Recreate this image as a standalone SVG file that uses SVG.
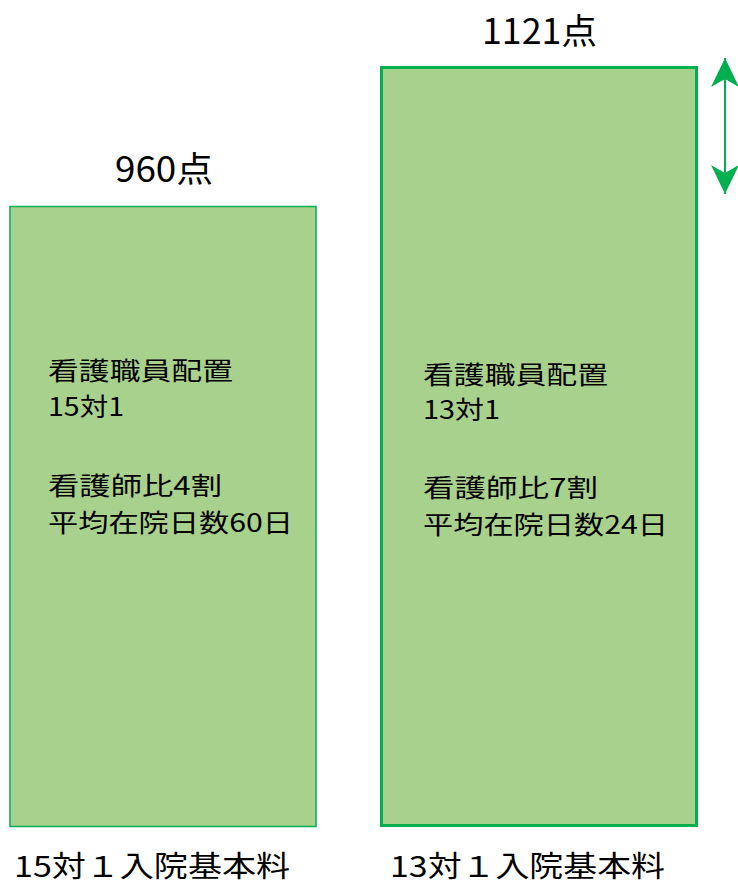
<svg xmlns="http://www.w3.org/2000/svg" width="738" height="886" viewBox="0 0 738 886">
<style>
.bar{fill:#A9D18E;stroke:#00B050}
.t{font-family:"Noto Sans CJK JP","Liberation Sans",sans-serif;fill:#000}
.in{font-size:25px}
.hd{font-size:35px}
.ft{font-size:29px}
</style>
<defs>
<marker id="ah" viewBox="-30 -15 30 30" refX="0" refY="0" markerWidth="30" markerHeight="30" markerUnits="userSpaceOnUse" orient="auto-start-reverse">
<path d="M0,0 L-29,-14 L-21,0 L-29,14 Z" fill="#00B050"/>
</marker>
</defs>
<rect width="738" height="886" fill="#fff"/>
<g id="bar15">
<rect class="bar" x="10" y="206.5" width="306" height="620" stroke-width="1.5"/>
<text class="t hd" x="115" y="182" textLength="98" lengthAdjust="spacingAndGlyphs">960点</text>
<text class="t in" x="48" y="380" textLength="185" lengthAdjust="spacingAndGlyphs">看護職員配置</text>
<text class="t in" x="48" y="416" textLength="76" lengthAdjust="spacingAndGlyphs">15対1</text>
<text class="t in" x="48" y="495" textLength="174" lengthAdjust="spacingAndGlyphs">看護師比4割</text>
<text class="t in" x="48" y="532" textLength="245" lengthAdjust="spacingAndGlyphs">平均在院日数60日</text>
<text class="t ft" x="14" y="877" textLength="276" lengthAdjust="spacingAndGlyphs">15対１入院基本料</text>
</g>
<g id="bar13">
<rect class="bar" x="381.5" y="67.5" width="315" height="758" stroke-width="3"/>
<text class="t hd" x="482" y="44" textLength="115" lengthAdjust="spacingAndGlyphs">1121点</text>
<text class="t in" x="423" y="384" textLength="185" lengthAdjust="spacingAndGlyphs">看護職員配置</text>
<text class="t in" x="423" y="419" textLength="77" lengthAdjust="spacingAndGlyphs">13対1</text>
<text class="t in" x="423" y="497" textLength="175" lengthAdjust="spacingAndGlyphs">看護師比7割</text>
<text class="t in" x="423" y="534" textLength="245" lengthAdjust="spacingAndGlyphs">平均在院日数24日</text>
<text class="t ft" x="390" y="877" textLength="275" lengthAdjust="spacingAndGlyphs">13対１入院基本料</text>
</g>
<g id="connectors">
<line x1="725" y1="194" x2="725" y2="58" stroke="#00B050" stroke-width="2" marker-start="url(#ah)" marker-end="url(#ah)"/>
</g>
</svg>
